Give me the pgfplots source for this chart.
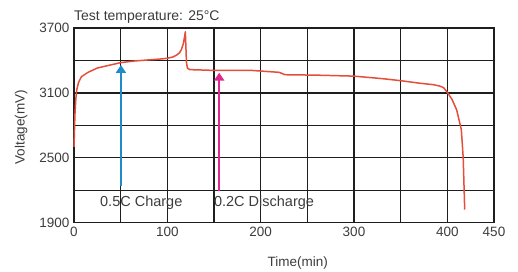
\documentclass[border=0pt]{standalone}
\usepackage{fontspec}
\setmainfont{Liberation Sans}
\usepackage{pgfplots}
\pgfplotsset{compat=1.18}
\usetikzlibrary{arrows.meta}
\definecolor{curve}{RGB}{228,78,58}
\definecolor{blueA}{RGB}{30,140,200}
\definecolor{pinkA}{RGB}{222,40,140}
\definecolor{gridc}{RGB}{30,30,30}
\definecolor{txt}{RGB}{60,60,60}
\begin{document}
\begin{tikzpicture}
\useasboundingbox (-74pt,-49.3pt) rectangle (444pt,222.7pt);
\begin{axis}[
  scale only axis, width=420pt, height=194.7pt,
  xmin=0, xmax=450, ymin=1900, ymax=3700,
  xtick={0,50,...,450}, xticklabels={0,,100,,200,,300,,400,450},
  ytick={1900,2200,...,3700}, yticklabels={1900,,2500,,3100,,3700},
  grid=major, grid style={gridc, line width=1.25pt},
  axis line style={gridc, line width=1.25pt},
  tick style={draw=none},
  /pgf/number format/assume math mode=true,
  tick label style={font=\fontsize{13.5}{14}\selectfont, text=txt},
  xticklabel style={yshift=-1pt},
  yticklabel style={xshift=-1pt},
  xlabel={Time(min)}, ylabel={Voltage(mV)},
  label style={font=\fontsize{13.5}{14}\selectfont, text=txt},
  xlabel style={at={(axis description cs:0.533,0)}, anchor=center, yshift=-40pt},
  every axis y label/.append style={at={(axis description cs:-0.126,0.49)}, anchor=center},
  clip=false,
]
\addplot[curve, line width=1.5pt, line join=round] coordinates {
(0,2600) (0.5,2750) (1,2900) (2,3050) (3,3130) (5,3200) (8,3250) (15,3290)
(25,3330) (35,3350) (50,3380) (65,3395) (80,3405) (95,3415) (100,3420)
(106,3432) (110,3450) (113,3470) (115,3500) (117,3550) (118.5,3620) (119.3,3665)
(120,3500) (120.5,3380) (121.5,3330) (124,3315) (150,3308) (190,3308)
(220,3290) (226,3268) (260,3264) (300,3255) (330,3232) (350,3213) (370,3190)
(385,3176) (392,3163) (396,3148) (400,3105) (405,3040) (410,2943) (415,2760)
(417,2500) (418,2205) (418.6,2020)
};
\addplot[blueA, line width=2pt, -{Triangle[width=10pt,length=8pt]}] coordinates {(50.3,2235) (50.3,3358)};
\addplot[pinkA, line width=2pt, -{Triangle[width=10pt,length=8pt]}] coordinates {(155.6,2189) (155.6,3287)};
\node[font=\fontsize{14.5}{15}\selectfont, text=txt] at (axis cs:72.1,2082) {0.5C Charge};
\node[font=\fontsize{14.5}{15}\selectfont, text=txt] at (axis cs:203.6,2082) {0.2C Discharge};
\node[font=\fontsize{14}{15}\selectfont, text=txt, anchor=base west, inner sep=0pt] at ([yshift=7.5pt]rel axis cs:0,1) {Test temperature: 25°C};
\end{axis}
\end{tikzpicture}
\end{document}
